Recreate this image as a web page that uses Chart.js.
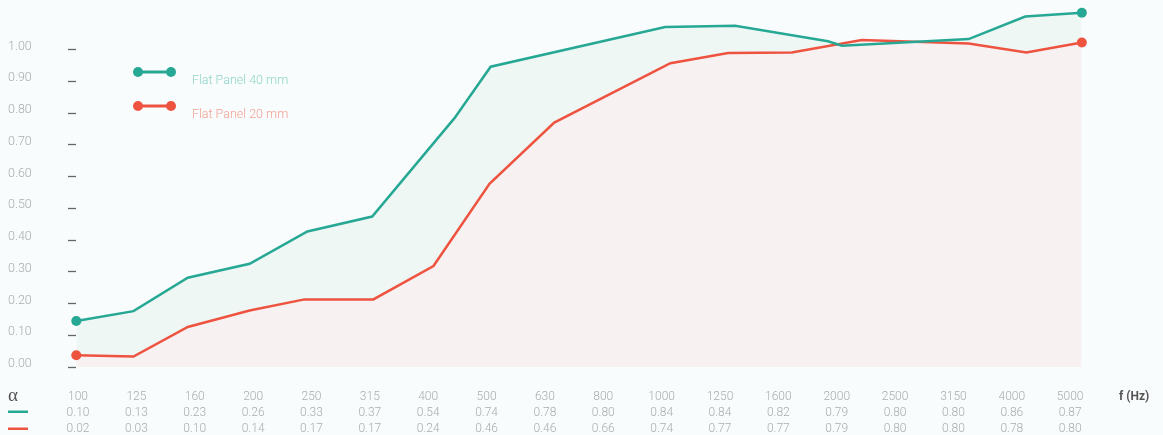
<!DOCTYPE html>
<html>
<head>
<meta charset="utf-8">
<script src="https://cdn.jsdelivr.net/npm/chart.js@4/dist/chart.umd.min.js"></script>
<style>
  html, body { margin: 0; padding: 0; background: #f8fcfd; }
  #chart { display: block; }
</style>
</head>
<body>
<canvas id="chart" width="1163" height="435"></canvas>
<script>
// frequency bands and the absorption table printed under the chart
const freqLabels = ['100', '125', '160', '200', '250', '315', '400', '500', '630', '800',
                    '1000', '1250', '1600', '2000', '2500', '3150', '4000', '5000'];
const table40 = [0.10, 0.13, 0.23, 0.26, 0.33, 0.37, 0.54, 0.74, 0.78, 0.80,
                 0.84, 0.84, 0.82, 0.79, 0.80, 0.80, 0.86, 0.87];
const table20 = [0.02, 0.03, 0.10, 0.14, 0.17, 0.17, 0.24, 0.46, 0.46, 0.66,
                 0.74, 0.77, 0.77, 0.79, 0.80, 0.80, 0.78, 0.80];

// plotted curves (x = position in band units, y = alpha)
const panel40Pos   = [-0.03, 0.95, 1.88, 2.94, 3.93, 5.04, 6.45, 7.07, 10.06, 11.26, 12.85, 13.09, 15.26, 16.23, 17.20];
const panel40Alpha = [0.145, 0.176, 0.281, 0.325, 0.427, 0.474, 0.784, 0.946, 1.071, 1.075, 1.026, 1.012, 1.033, 1.104, 1.116];
const panel20Pos   = [-0.03, 0.95, 1.88, 2.94, 3.88, 5.06, 6.09, 7.05, 8.16, 10.15, 11.14, 12.23, 13.43, 15.26, 16.25, 17.20];
const panel20Alpha = [0.037, 0.033, 0.126, 0.178, 0.213, 0.213, 0.318, 0.577, 0.770, 0.957, 0.989, 0.991, 1.030, 1.019, 0.991, 1.022];

const yTicks = [0, 0.1, 0.2, 0.3, 0.4, 0.5, 0.6, 0.7, 0.8, 0.9, 1.0];

const GREEN = '#26a894';
const RED = '#ee5340';

function toPoints(xs, ys) {
    return xs.map((x, i) => ({ x: x, y: ys[i] }));
}

function endRadius(ctx) {
    const n = ctx.dataset.data.length;
    return (ctx.dataIndex === 0 || ctx.dataIndex === n - 1) ? 5 : 0;
}

// ----------------- DECORATIONS -----------------

const decor = {
    id: 'decor',
    afterDraw(chart) {
        const c = chart.ctx;
        c.save();

        // legend
        const items = [
            { color: GREEN, text: 'Flat Panel 40 mm', textColor: '#8fd4c6', y: 72 },
            { color: RED, text: 'Flat Panel 20 mm', textColor: '#f4a092', y: 106 }
        ];
        items.forEach(it => {
            c.strokeStyle = it.color;
            c.lineWidth = 3;
            c.beginPath();
            c.moveTo(138, it.y);
            c.lineTo(171, it.y);
            c.stroke();
            c.fillStyle = it.color;
            [138, 171].forEach(px => {
                c.beginPath();
                c.arc(px, it.y, 5, 0, Math.PI * 2);
                c.fill();
            });
            c.fillStyle = it.textColor;
            c.font = '300 12.5px Roboto';
            c.textBaseline = 'middle';
            c.textAlign = 'left';
            c.fillText(it.text, 192, it.y + 8.5);
        });

        // table row headers
        c.fillStyle = '#555';
        c.font = '19px "Liberation Serif"';
        c.textBaseline = 'middle';
        c.fillText('\u03b1', 8, 396);
        c.fillStyle = GREEN;
        c.fillRect(8, 410.5, 20, 2.5);
        c.fillStyle = RED;
        c.fillRect(8, 427.5, 20, 2.5);

        c.fillStyle = '#555';
        c.font = 'bold 12px Roboto';
        c.fillText('f (Hz)', 1119, 397);

        c.restore();
    }
};

const chart = new Chart(document.getElementById('chart').getContext('2d'), {
    type: 'line',
    data: {
        datasets: [{
            label: 'Flat Panel 40 mm',
            data: toPoints(panel40Pos, panel40Alpha),
            borderColor: GREEN,
            backgroundColor: GREEN,
            borderWidth: 2.5,
            tension: 0,
            pointRadius: endRadius,
            pointHoverRadius: endRadius,
            pointBorderWidth: 0,
            clip: false,
            fill: { target: 1, above: '#eff7f5', below: '#f8f1f1' }
        }, {
            label: 'Flat Panel 20 mm',
            data: toPoints(panel20Pos, panel20Alpha),
            borderColor: RED,
            backgroundColor: RED,
            borderWidth: 2.5,
            tension: 0,
            pointRadius: endRadius,
            pointHoverRadius: endRadius,
            pointBorderWidth: 0,
            clip: false,
            fill: { target: 'origin', above: '#f8f1f1' }
        }]
    },
    options: {
        responsive: false,
        animation: false,
        layout: { padding: { left: 8, right: 73, top: 4, bottom: 0 } },
        plugins: {
            legend: { display: false },
            tooltip: { enabled: false },
            filler: { drawTime: 'beforeDatasetsDraw' }
        },
        scales: {
            x: {
                type: 'linear',
                min: -0.035,
                max: 17.34,
                border: { display: false },
                grid: { display: false, drawTicks: false },
                afterBuildTicks: axis => {
                    axis.ticks = freqLabels.map((_, i) => ({ value: i }));
                },
                afterFit: axis => { axis.height = 68; },
                ticks: {
                    autoSkip: false,
                    maxRotation: 0,
                    padding: 22,
                    color: '#a9adb0',
                    font: { family: 'Roboto', size: 12, weight: '300', lineHeight: '16px' },
                    callback: v => [freqLabels[v], table40[v].toFixed(2), table20[v].toFixed(2)]
                }
            },
            y: {
                min: 0,
                max: 1.123,
                border: { display: false },
                grid: {
                    drawOnChartArea: false,
                    drawTicks: true,
                    tickLength: 8,
                    tickColor: '#666',
                    tickWidth: 1.3
                },
                afterBuildTicks: axis => {
                    axis.ticks = yTicks.map(v => ({ value: v }));
                },
                afterFit: axis => { axis.width = 68; },
                ticks: {
                    crossAlign: 'far',
                    labelOffset: -3,
                    color: '#a9adb0',
                    font: { family: 'Roboto', size: 12.5, weight: '300' },
                    callback: v => v.toFixed(2)
                }
            }
        }
    },
    plugins: [decor]
});
</script>
</body>
</html>
